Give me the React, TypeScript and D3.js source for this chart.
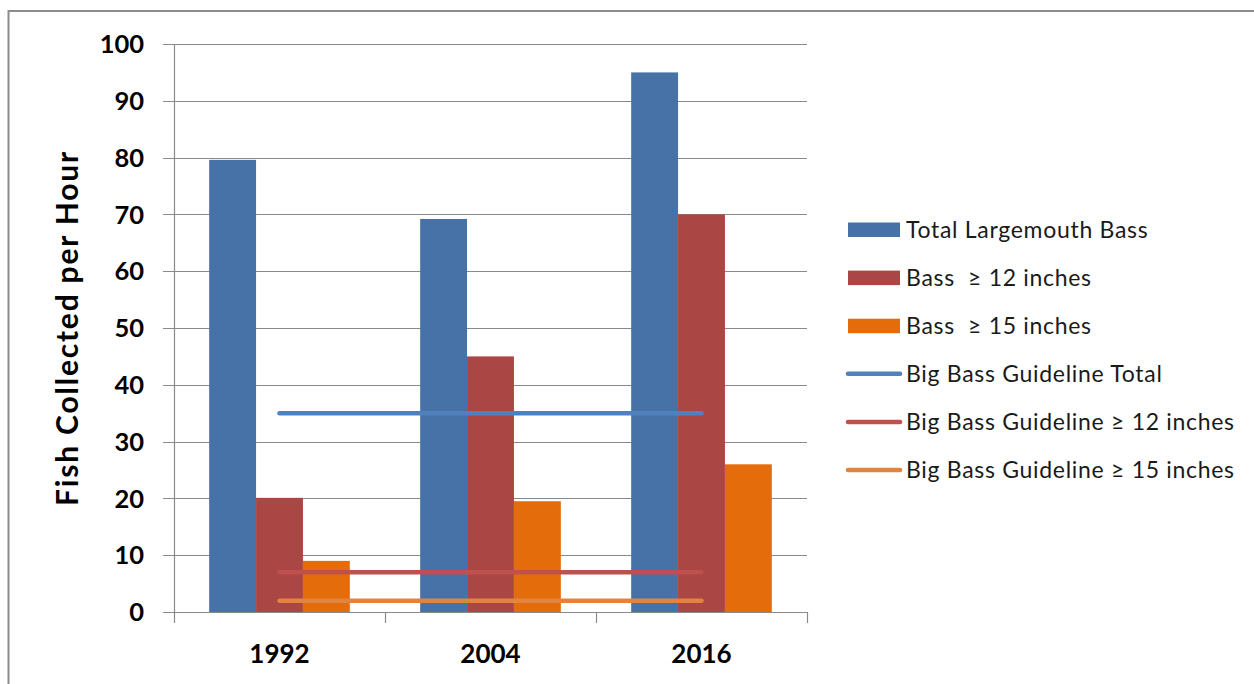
import React from "react";
import * as d3 from "d3";

const years = ["1992", "2004", "2016"];
const totalBass = [79.6, 69.2, 95.0];
const bass12 = [20.1, 45.0, 70.0];
const bass15 = [9.0, 19.5, 26.0];
const guideTotal = [35, 35, 35];
const guide12 = [7, 7, 7];
const guide15 = [2, 2, 2];
const yTicks = [0, 10, 20, 30, 40, 50, 60, 70, 80, 90, 100];

const barSeries = [
  { name: "Total Largemouth Bass", values: totalBass, color: "#4672A8" },
  { name: "Bass  \u2265 12 inches", values: bass12, color: "#AA4643" },
  { name: "Bass  \u2265 15 inches", values: bass15, color: "#E46C0A" },
];
const lineSeries = [
  { name: "Big Bass Guideline Total", values: guideTotal, color: "#4F81BD" },
  { name: "Big Bass Guideline \u2265 12 inches", values: guide12, color: "#C0504D" },
  { name: "Big Bass Guideline \u2265 15 inches", values: guide15, color: "#E3843E" },
];

const W = 1254;
const H = 684;
const plotL = 174;
const plotR = 807;
const plotT = 44;
const plotB = 612;
const FONT = "Lato, 'Open Sans', sans-serif";

export default function App() {
  const y = d3.scaleLinear().domain([0, 100]).range([plotB, plotT]);
  const x = d3.scaleBand().domain(years).range([plotL, plotR]).paddingInner(0).paddingOuter(0);
  const bw = x.bandwidth();
  const barW = bw / 4.5;
  const groupOff = (bw - 3 * barW) / 2;
  const line = d3
    .line<number>()
    .x((_, i) => (x(years[i]) as number) + bw / 2)
    .y((v) => y(v));

  const legendX = 848;
  const legendY0 = 229.5;
  const legendStep = 48.1;
  const allLegend = [
    ...barSeries.map((s) => ({ ...s, kind: "bar" })),
    ...lineSeries.map((s) => ({ ...s, kind: "line" })),
  ];

  return (
    <svg
      width={W}
      height={H}
      style={{ position: "absolute", left: 0, top: 0, background: "#fff" }}
      fontFamily={FONT}
    >
      <rect x={0} y={0} width={W} height={H} fill="#fff" />
      {/* outer frame */}
      <path d={`M8.5,${H} L8.5,11 L${W},11`} fill="none" stroke="#8c8c8c" strokeWidth={2} />

      {/* gridlines */}
      {yTicks.map((t) => (
        <line key={t} x1={163} x2={plotR} y1={Math.round(y(t)) + 0.5} y2={Math.round(y(t)) + 0.5} stroke="#8a8a8a" strokeWidth={1.2} />
      ))}
      {/* y axis */}
      <line x1={plotL + 0.5} x2={plotL + 0.5} y1={plotT} y2={plotB} stroke="#8a8a8a" strokeWidth={1.2} />
      {/* x ticks */}
      {[...years.map((yr) => x(yr) as number), plotR].map((p, i) => (
        <line key={i} x1={Math.round(p) + 0.5} x2={Math.round(p) + 0.5} y1={plotB} y2={plotB + 11} stroke="#8a8a8a" strokeWidth={1.2} />
      ))}

      {/* bars */}
      {barSeries.map((s, si) =>
        s.values.map((v, i) => (
          <rect
            key={`${si}-${i}`}
            x={(x(years[i]) as number) + groupOff + si * barW}
            y={y(v)}
            width={barW}
            height={y(0) - y(v)}
            fill={s.color}
          />
        ))
      )}

      {/* guideline lines */}
      {lineSeries.map((s, si) => (
        <path key={si} d={line(s.values) || ""} fill="none" stroke={s.color} strokeWidth={4.5} strokeLinecap="round" />
      ))}

      {/* y tick labels */}
      {yTicks.map((t) => (
        <text key={t} x={144} y={y(t)} dy="0.36em" textAnchor="end" fontSize={25.5} fontWeight="bold" fill="#000">
          {t}
        </text>
      ))}

      {/* x labels */}
      {years.map((yr) => (
        <text key={yr} x={(x(yr) as number) + bw / 2} y={663} textAnchor="middle" fontSize={26} fontWeight="bold" fill="#000">
          {yr}
        </text>
      ))}

      {/* y title */}
      <text
        transform={`translate(78, ${(plotT + plotB) / 2 - 0}) rotate(-90)`}
        textAnchor="middle"
        fontSize={30}
        letterSpacing={1.8}
        fontWeight="bold"
        fill="#000"
      >
        Fish Collected per Hour
      </text>

      {/* legend */}
      {allLegend.map((s, i) => {
        const cy = legendY0 + i * legendStep;
        return (
          <g key={i}>
            {s.kind === "bar" ? (
              <rect x={legendX} y={cy - 7} width={52} height={14.5} fill={s.color} />
            ) : (
              <line x1={legendX} x2={legendX + 52} y1={cy} y2={cy} stroke={s.color} strokeWidth={4.5} strokeLinecap="round" />
            )}
            <text
              x={906}
              y={cy}
              dy="0.36em"
              fontSize={23}
              letterSpacing={0.7}
              fill="#1a1a1a"
              style={{ whiteSpace: "pre" }}
            >
              {s.name}
            </text>
          </g>
        );
      })}
    </svg>
  );
}
